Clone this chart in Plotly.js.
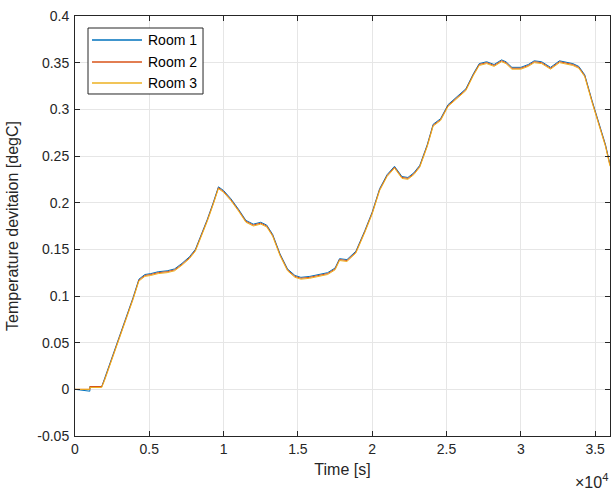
<!DOCTYPE html>
<html><head><meta charset="utf-8">
<script src="https://cdn.plot.ly/plotly-3.0.1.min.js"></script>
<style>html,body{margin:0;padding:0;background:#fff}#c{width:614px;height:490px}</style>
</head><body><div id="c"></div>
<script>
const time = [0,1000,1001,1800,2000,2400,2700,3000,3500,3900,4300,4700,5100,5600,6200,6700,7200,7700,8100,8500,8900,9300,9650,10000,10500,11000,11500,12000,12500,12900,13300,13800,14300,14800,15200,15800,16400,17000,17500,17800,18300,18900,19500,20000,20500,21000,21500,22000,22400,22800,23200,23700,24100,24600,25100,25700,26300,26800,27200,27700,28200,28700,29000,29400,30000,30500,30900,31400,32000,32600,33000,33500,33900,34300,34800,35300,35700,36000];
const room1 = [0,-0.002,0.003,0.003,0.012,0.030,0.045,0.058,0.080,0.098,0.118,0.123,0.124,0.126,0.127,0.129,0.135,0.142,0.150,0.165,0.182,0.200,0.217,0.213,0.204,0.193,0.181,0.177,0.179,0.176,0.166,0.145,0.129,0.122,0.120,0.121,0.123,0.125,0.130,0.140,0.139,0.148,0.170,0.190,0.215,0.230,0.239,0.228,0.227,0.232,0.240,0.262,0.284,0.290,0.305,0.313,0.322,0.338,0.349,0.351,0.348,0.353,0.351,0.345,0.345,0.348,0.352,0.351,0.345,0.352,0.351,0.349,0.346,0.337,0.309,0.284,0.262,0.241];
const room2 = [0,0,0.003,0.003,0.011,0.029,0.044,0.057,0.079,0.097,0.117,0.122,0.123,0.125,0.126,0.128,0.134,0.141,0.149,0.164,0.181,0.199,0.216,0.212,0.203,0.192,0.180,0.176,0.178,0.175,0.165,0.144,0.128,0.121,0.119,0.120,0.122,0.124,0.129,0.139,0.138,0.147,0.169,0.189,0.214,0.229,0.238,0.227,0.226,0.231,0.239,0.261,0.283,0.289,0.304,0.312,0.321,0.337,0.348,0.350,0.347,0.352,0.350,0.344,0.344,0.347,0.351,0.350,0.344,0.351,0.350,0.348,0.345,0.336,0.308,0.283,0.261,0.240];
const room3 = [0,0,0.002,0.002,0.010,0.028,0.043,0.056,0.078,0.096,0.116,0.121,0.122,0.124,0.125,0.127,0.133,0.140,0.148,0.163,0.180,0.198,0.215,0.211,0.202,0.191,0.179,0.175,0.177,0.174,0.164,0.143,0.127,0.120,0.118,0.119,0.121,0.123,0.128,0.138,0.137,0.146,0.168,0.188,0.213,0.228,0.237,0.226,0.225,0.230,0.238,0.260,0.282,0.288,0.303,0.311,0.320,0.336,0.347,0.349,0.346,0.351,0.349,0.343,0.343,0.346,0.350,0.349,0.343,0.350,0.349,0.347,0.344,0.335,0.307,0.282,0.260,0.239];
const names = ['Room 1','Room 2','Room 3'];
const colors = ['#0072BD','#D95319','#EDB120'];
const xTickVals = [0,5000,10000,15000,20000,25000,30000,35000];
const xTickText = ['0','0.5','1','1.5','2','2.5','3','3.5'];
const yTickVals = [-0.05,0,0.05,0.1,0.15,0.2,0.25,0.3,0.35,0.4];
const yTickText = ['-0.05','0','0.05','0.1','0.15','0.2','0.25','0.3','0.35','0.4'];

const FONT = 'Liberation Sans, Arial, sans-serif';
const series = [room1, room2, room3];
const data = series.map((s,i)=>({x:time,y:s,type:'scatter',mode:'lines',name:names[i],showlegend:false,line:{color:colors[i],width:1}}));

// custom MATLAB-style legend (box, line samples, labels) in axis-domain coordinates
const legX0 = 0.0243, legX1 = 0.2393, legY0 = 0.8143, legY1 = 0.9714;
const rowY = [0.9429, 0.8905, 0.8405];
const shapes = [{type:'rect',xref:'paper',yref:'paper',x0:legX0,x1:legX1,y0:legY0,y1:legY1,line:{color:'#262626',width:1},fillcolor:'#fff',layer:'above'}];
const annotations = [];
names.forEach((n,i)=>{
  shapes.push({type:'line',xref:'paper',yref:'paper',x0:0.0318,x1:0.1252,y0:rowY[i],y1:rowY[i],line:{color:colors[i],width:1.5},layer:'above'});
  annotations.push({xref:'paper',yref:'paper',x:0.1327,y:rowY[i],xanchor:'left',yanchor:'middle',showarrow:false,text:n,font:{family:FONT,size:14,color:'#000'}});
});
annotations.push({xref:'paper',yref:'paper',x:1,y:-0.107,xanchor:'right',yanchor:'middle',showarrow:false,
  text:'×10<sup>4</sup>',font:{family:FONT,size:16,color:'#262626'}});

const axisCommon = {showline:true,mirror:'ticks',linecolor:'#262626',linewidth:1,ticks:'inside',ticklen:5,tickcolor:'#262626',
  showgrid:true,gridcolor:'#e6e6e6',gridwidth:1,zeroline:false,tickfont:{family:FONT,size:14,color:'#262626'}};
const layout = {
  width:614,height:490,margin:{l:75,r:4,t:16,b:54},paper_bgcolor:'#fff',plot_bgcolor:'#fff',
  font:{family:FONT,color:'#262626'},showlegend:false,
  xaxis:Object.assign({},axisCommon,{range:[0,36000],tickvals:xTickVals,ticktext:xTickText,
    title:{text:'Time [s]',font:{family:FONT,size:16,color:'#262626'},standoff:8}}),
  yaxis:Object.assign({},axisCommon,{range:[-0.05,0.4],tickvals:yTickVals,ticktext:yTickText,ticklabelstandoff:2,
    title:{text:'Temperature devitaion [degC]',font:{family:FONT,size:16,color:'#262626'},standoff:14}}),
  shapes:shapes, annotations:annotations
};
Plotly.newPlot('c',data,layout,{displayModeBar:false,staticPlot:true});
</script></body></html>
